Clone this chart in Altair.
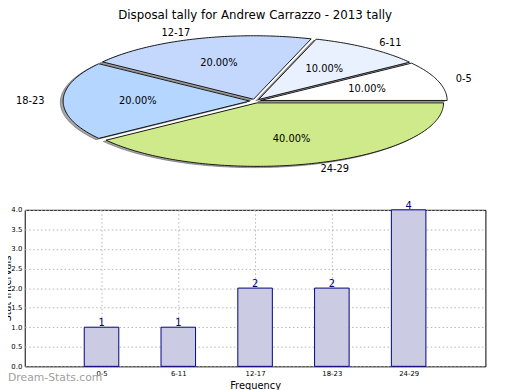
import altair as alt
import numpy as np
import pandas as pd

# ---------------- data ----------------
categories = ["0-5", "6-11", "12-17", "18-23", "24-29"]
counts = [1, 1, 2, 2, 4]
slice_colors = ["#ffffff", "#e9f1ff", "#c4d8fe", "#b4d6ff", "#cfea8b"]
y_ticks = [0.0, 0.5, 1.0, 1.5, 2.0, 2.5, 3.0, 3.5, 4.0]
title_text = "Disposal tally for Andrew Carrazzo - 2013 tally"
x_title = "Frequency"
y_title = "Stat Intervals"
watermark = ["Dream-Stats.com"]

# ---------------- layout constants ----------------
W, H = 468, 159            # bar plot area
RX, RY = 189.5, 64.5        # pie radii in px (elliptical axes)
CX_REL, CY_REL = 234.2, -110.5   # pie centre relative to bar plot origin
EXPLODE = 0.03
SHADOW_DX, SHADOW_DY = -0.015, -0.02
FONT = "DejaVu Sans"

# ---------------- pie geometry (derived from counts) ----------------
total = float(sum(counts))
rows, label_rows = [], []
start = 0.0
for cat, c in zip(categories, counts):
    a0 = 2 * np.pi * start / total
    a1 = 2 * np.pi * (start + c) / total
    mid = (a0 + a1) / 2
    ox, oy = EXPLODE * np.cos(mid), EXPLODE * np.sin(mid)
    n = max(int(np.degrees(a1 - a0)), 2)
    angs = np.linspace(a0, a1, n + 1)
    pts = [(ox, oy)] + [(ox + np.cos(a), oy + np.sin(a)) for a in angs] + [(ox, oy)]
    for k, (x, y) in enumerate(pts):
        rows.append(dict(cat=cat, k=k, px=x, py=y, sx=x + SHADOW_DX, sy=y + SHADOW_DY))
    label_rows.append(dict(
        cat=cat,
        lx=ox + 1.1 * np.cos(mid), ly=oy + 1.1 * np.sin(mid),
        side="right" if np.cos(mid) >= 0 else "left",
        tx=ox + 0.6 * np.cos(mid), ty=oy + 0.6 * np.sin(mid),
        pct=f"{100 * c / total:.2f}%",
    ))
    start += c
pie_df = pd.DataFrame(rows)
lab_df = pd.DataFrame(label_rows)

px_scale = alt.Scale(domain=[-CX_REL / RX, (W - CX_REL) / RX], nice=False, zero=False)
py_scale = alt.Scale(domain=[-(H - CY_REL) / RY, CY_REL / RY], nice=False, zero=False)

pie_base = alt.Chart(pie_df)
shadow = pie_base.mark_line(stroke="#4d4d4d", strokeOpacity=0.5, strokeWidth=1,
                            fill="#4d4d4d", fillOpacity=0.5).encode(
    x=alt.X("sx:Q", scale=px_scale, axis=None),
    y=alt.Y("sy:Q", scale=py_scale, axis=None),
    detail="cat:N",
    order=alt.Order("k:Q"),
)
wedges = pie_base.mark_line(stroke="#000000", strokeWidth=0.9).encode(
    x=alt.X("px:Q", scale=px_scale, axis=None),
    y=alt.Y("py:Q", scale=py_scale, axis=None),
    fill=alt.Fill("cat:N", scale=alt.Scale(domain=categories, range=slice_colors), legend=None),
    detail="cat:N",
    order=alt.Order("k:Q"),
)
lab_base = alt.Chart(lab_df)
lab_right = lab_base.transform_filter("datum.side == 'right'").mark_text(
    align="left", baseline="middle", fontSize=10, font=FONT, color="black").encode(
    x=alt.X("lx:Q", scale=px_scale, axis=None),
    y=alt.Y("ly:Q", scale=py_scale, axis=None),
    text="cat:N",
)
lab_left = lab_base.transform_filter("datum.side == 'left'").mark_text(
    align="right", baseline="middle", fontSize=10, font=FONT, color="black").encode(
    x=alt.X("lx:Q", scale=px_scale, axis=None),
    y=alt.Y("ly:Q", scale=py_scale, axis=None),
    text="cat:N",
)
pct = lab_base.mark_text(align="center", baseline="middle", fontSize=10, font=FONT,
                         color="black").encode(
    x=alt.X("tx:Q", scale=px_scale, axis=None),
    y=alt.Y("ty:Q", scale=py_scale, axis=None),
    text="pct:N",
)
pie = alt.layer(shadow, wedges, lab_right, lab_left, pct)

# ---------------- bar chart ----------------
bar_df = pd.DataFrame({"cat": categories, "count": counts,
                       "pos": list(range(1, len(categories) + 1))})
label_expr = "[''," + ",".join(f"'{c}'" for c in categories) + "][datum.value] || ''"

xs = alt.Scale(domain=[0, len(categories) + 1], nice=False, zero=False)
ys = alt.Scale(domain=[0, 4], nice=False)

x_axis = alt.Axis(
    values=list(range(1, len(categories) + 1)), labelExpr=label_expr,
    title=x_title, titleFontSize=10, titleFont=FONT, titleFontWeight="normal",
    titleY=15, titleBaseline="top", titleColor="black",
    labelFontSize=7, labelFont=FONT, labelColor="black", labelPadding=3,
    ticks=False, domain=False,
    grid=True, gridColor="#b5b5b5", gridDash=[1.5, 2.5], gridWidth=1)
y_axis = alt.Axis(
    values=y_ticks, format=".1f",
    title=y_title, titleFontSize=10, titleFont=FONT, titleFontWeight="normal",
    titleX=-14, titleY=H / 2, titleBaseline="alphabetic", titleColor="black",
    labelFontSize=7, labelFont=FONT, labelColor="black", labelPadding=3,
    ticks=False, domain=False,
    grid=True, gridColor="#b5b5b5", gridDash=[1.5, 2.5], gridWidth=1)

bar_base = alt.Chart(bar_df).transform_calculate(
    x0="datum.pos - 0.225", x1="datum.pos + 0.225")
bars = bar_base.mark_bar(fill="#cbcbe3", stroke="#000080", strokeWidth=1).encode(
    x=alt.X("x0:Q", scale=xs, axis=x_axis),
    x2="x1:Q",
    y=alt.Y("count:Q", scale=ys, axis=y_axis),
    y2=alt.datum(0),
)
vals = alt.Chart(bar_df).mark_text(align="center", baseline="alphabetic", dy=-1,
                                   fontSize=10, font=FONT, color="#000080").encode(
    x=alt.X("pos:Q", scale=xs, axis=x_axis),
    y=alt.Y("count:Q", scale=ys, axis=y_axis),
    text="count:Q",
)
wm = alt.Chart(pd.DataFrame({"t": watermark})).mark_text(
    align="left", baseline="alphabetic", fontSize=11, font=FONT, color="#a0a0a0").encode(
    x=alt.value(-17), y=alt.value(H + 15), text="t:N")
barc = alt.layer(bars, vals, wm)

chart = alt.layer(pie, barc).resolve_scale(
    x="independent", y="independent"
).properties(
    width=W, height=H,
    title=alt.TitleParams(title_text, fontSize=12, font=FONT, fontWeight="normal",
                          color="black", anchor="middle", frame="group",
                          baseline="alphabetic", offset=-3),
    padding={"left": 17, "top": 202, "right": 27, "bottom": 21},
    autosize=alt.AutoSizeParams(type="none"),
).configure_view(stroke="black", strokeWidth=1)

chart.save("out.html", embed_options={"renderer": "svg", "actions": False})
